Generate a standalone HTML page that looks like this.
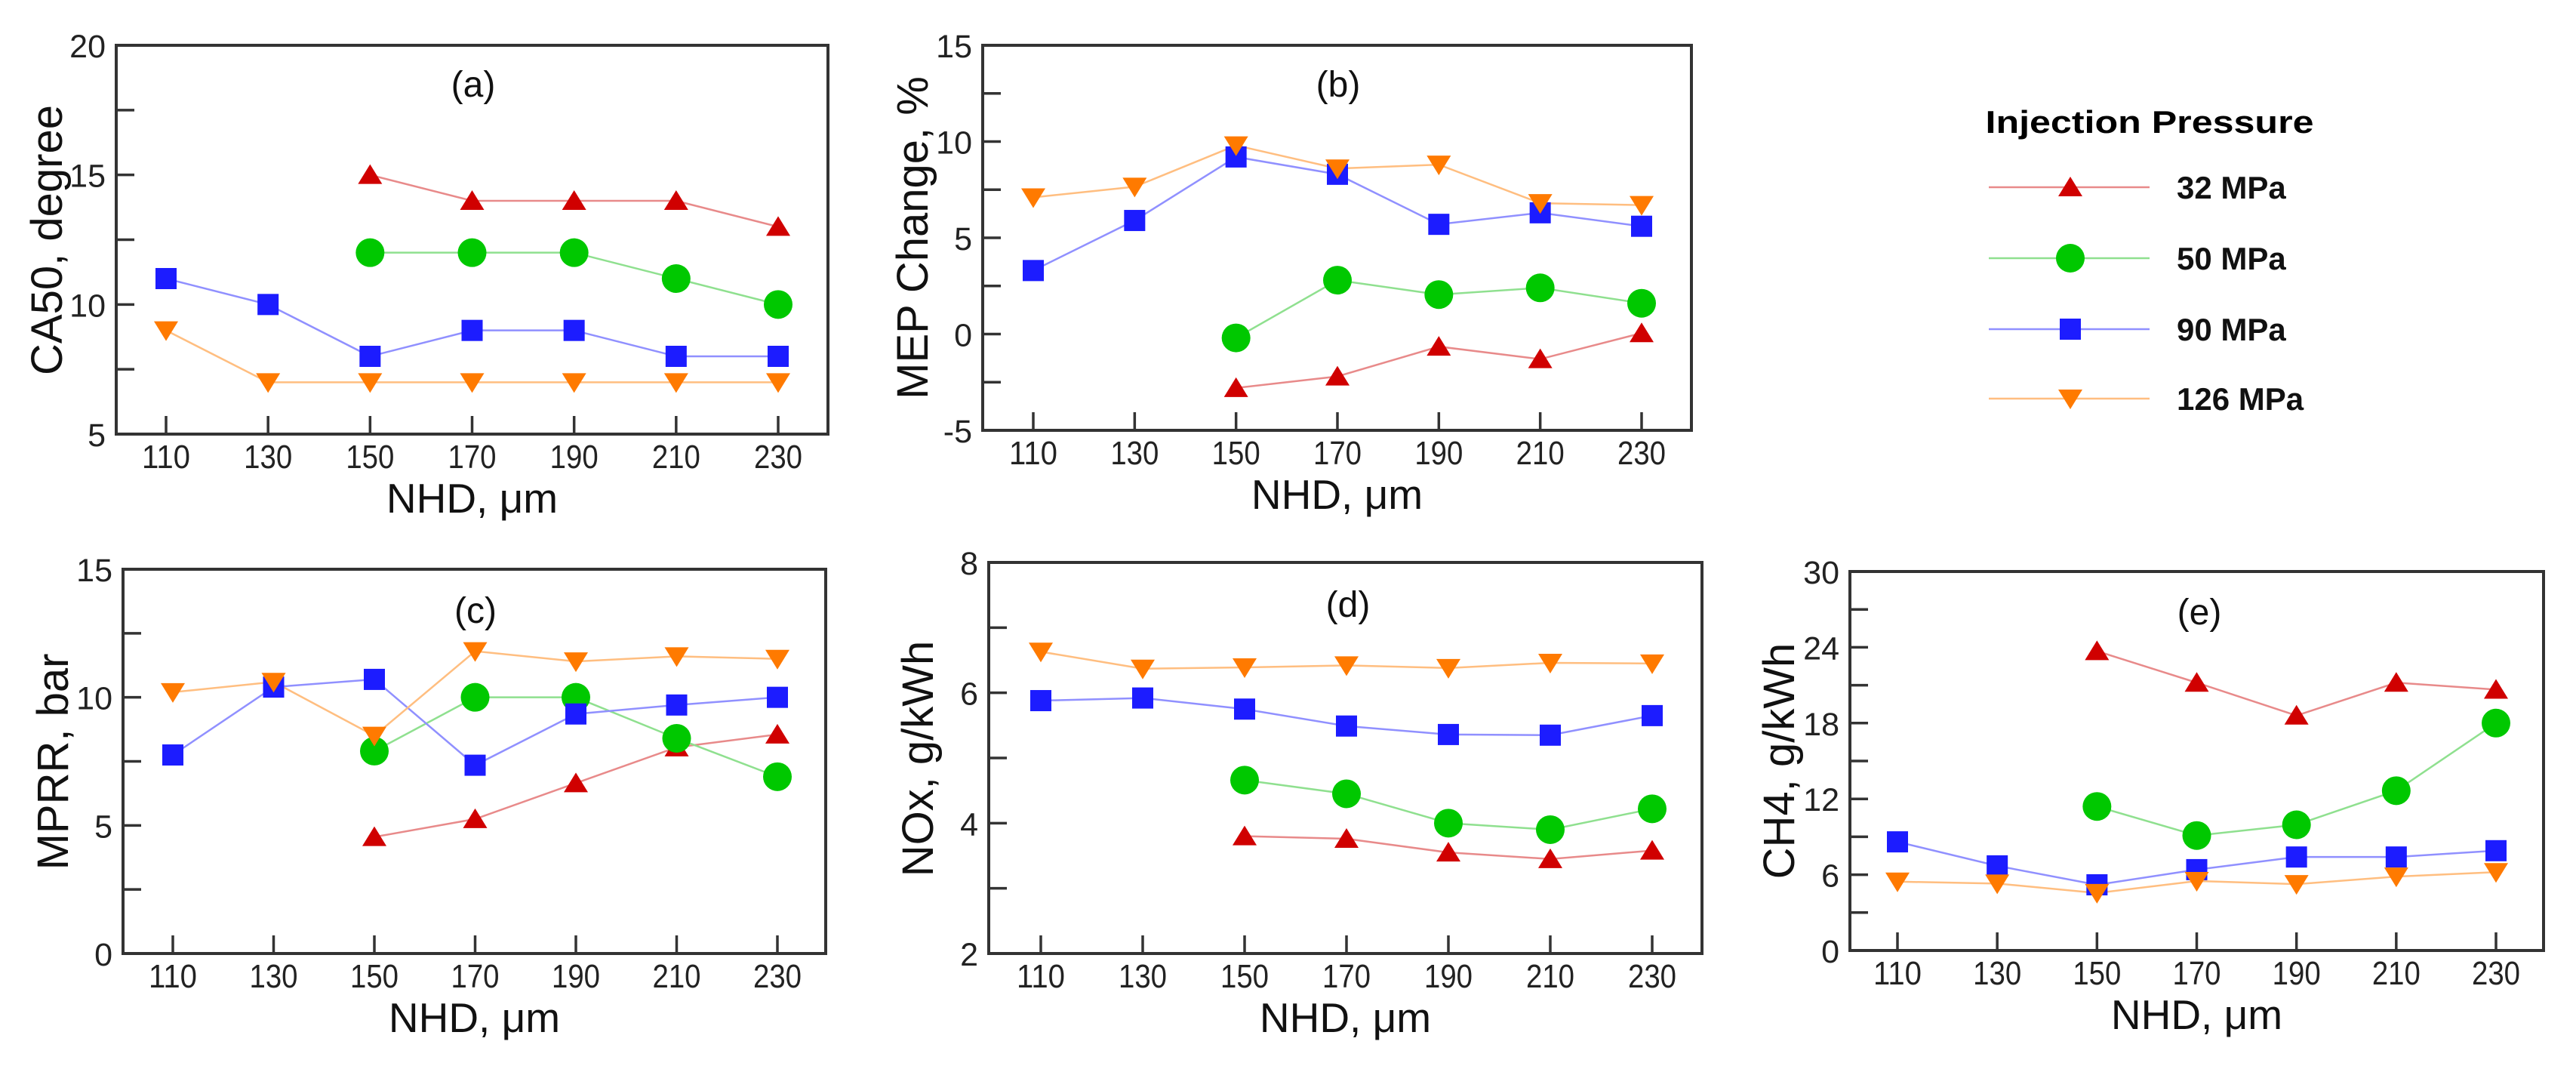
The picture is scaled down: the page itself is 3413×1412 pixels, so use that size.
<!DOCTYPE html>
<html><head><meta charset="utf-8"><style>
html,body{margin:0;padding:0;background:#fff;}
svg{display:block;font-family:"Liberation Sans",Arial,sans-serif;}
</style></head><body>
<svg id="fig" width="3413" height="1412" viewBox="0 0 3413 1412" xmlns="http://www.w3.org/2000/svg">
<g id="legend">
 <text x="2848" y="176" text-anchor="middle" font-size="42" font-weight="bold" textLength="435" lengthAdjust="spacingAndGlyphs">Injection Pressure</text>
</g>
</svg>
<script>
const xCats = [110,130,150,170,190,210,230];
const seriesNames = ['32 MPa','50 MPa','90 MPa','126 MPa'];
// panel (a) CA50
const a32 = [null,null,15,14,14,14,13];
const a50 = [null,null,12,12,12,11,10];
const a90 = [11,10,8,9,9,8,8];
const a126 = [9,7,7,7,7,7,7];
// panel (b) MEP change
const b32 = [null,null,-2.8,-2.2,-0.65,-1.3,0.05];
const b50 = [null,null,-0.2,2.8,2.05,2.4,1.6];
const b90 = [3.3,5.9,9.2,8.3,5.7,6.3,5.6];
const b126 = [7.1,7.65,9.8,8.6,8.8,6.8,6.7];
// panel (c) MPRR
const c32 = [null,null,4.55,5.25,6.65,8.05,8.55];
const c50 = [null,null,7.9,10.0,10.0,8.4,6.9];
const c90 = [7.75,10.4,10.7,7.35,9.35,9.7,10.0];
const c126 = [10.2,10.6,8.5,11.8,11.4,11.6,11.5];
// panel (d) NOx
const d32 = [null,null,3.8,3.76,3.55,3.45,3.58];
const d50 = [null,null,4.66,4.45,4.0,3.9,4.22];
const d90 = [5.88,5.92,5.75,5.49,5.36,5.35,5.65];
const d126 = [6.63,6.37,6.39,6.42,6.38,6.46,6.45];
// panel (e) CH4
const e32 = [null,null,23.7,21.2,18.6,21.2,20.65];
const e50 = [null,null,11.4,9.1,9.95,12.65,18.0];
const e90 = [8.6,6.7,5.2,6.4,7.4,7.4,7.9];
const e126 = [5.45,5.3,4.55,5.5,5.25,5.85,6.2];
// tick labels
const aTicks = [5,10,15,20];
const bTicks = [-5,0,5,10,15];
const cTicks = [0,5,10,15];
const dTicks = [2,4,6,8];
const eTicks = [0,6,12,18,24,30];

const NS='http://www.w3.org/2000/svg';
const svg=document.getElementById('fig');
const lineCol=['#e88a8a','#8fe08f','#9090ff','#ffbe80'];
const markCol=['#d00000','#00c800','#1c1cff','#ff7a00'];
const shapes=['tri','circ','sq','itri'];
function mk(tag,attrs,parent){const e=document.createElementNS(NS,tag);for(const k in attrs)e.setAttribute(k,attrs[k]);parent.appendChild(e);return e;}
function marker(shape,cx,cy,col,parent,name){
  let e;
  if(shape==='tri'){e=mk('polygon',{points:`${cx-16},${cy+12} ${cx+16},${cy+12} ${cx},${cy-14}`,fill:col},parent);}
  else if(shape==='itri'){e=mk('polygon',{points:`${cx-16},${cy-12} ${cx+16},${cy-12} ${cx},${cy+14}`,fill:col},parent);}
  else if(shape==='circ'){e=mk('circle',{cx:cx,cy:cy,r:19,fill:col},parent);}
  else {e=mk('rect',{x:cx-14,y:cy-14,width:28,height:28,fill:col},parent);}
  
  
  return e;
}
function panel(p){
  const g=mk('g',{},svg);
  
  
  const xs=v=>p.x110+(v-110)/120*(p.x230-p.x110);
  const ys=v=>p.b-(v-p.min)/(p.max-p.min)*(p.b-p.t);
  // series lines then markers
  p.series.forEach((arr,si)=>{
    const pts=[];arr.forEach((v,i)=>{if(v!==null)pts.push(xs(xCats[i])+','+ys(v));});
    const pl=mk('polyline',{points:pts.join(' '),fill:'none',stroke:lineCol[si],'stroke-width':2.5},g);
    
    
  });
  p.series.forEach((arr,si)=>{
    arr.forEach((v,i)=>{if(v!==null)marker(shapes[si],xs(xCats[i]),ys(v),markCol[si],g,'point-'+p.id+'-'+si+'-'+xCats[i]);});
  });
  // frame
  const fr=mk('rect',{x:p.l,y:p.t,width:p.r-p.l,height:p.b-p.t,fill:'none',stroke:'#333','stroke-width':4},g);
  
  
  // y ticks major + minor
  for(let k=0;k<p.ticks.length;k++){
    const v=p.ticks[k];const y=ys(v);
    mk('line',{x1:p.l,x2:p.l+24,y1:y,y2:y,stroke:'#333','stroke-width':3.5},g);
    const t=mk('text',{x:p.l-14,y:y+16,'text-anchor':'end','font-size':43,fill:'#222'},g);
    t.textContent=v;
    
    
    if(k<p.ticks.length-1){const m=(v+p.ticks[k+1])/2;const ym=ys(m);
      mk('line',{x1:p.l,x2:p.l+24,y1:ym,y2:ym,stroke:'#333','stroke-width':3.5},g);}
  }
  // x ticks
  xCats.forEach(c=>{const x=xs(c);
    mk('line',{x1:x,x2:x,y1:p.b,y2:p.b-24,stroke:'#333','stroke-width':3.5},g);
    const t=mk('text',{x:x,y:p.b+45,'text-anchor':'middle','font-size':44,fill:'#222',textLength:64,lengthAdjust:'spacingAndGlyphs'},g);
    t.textContent=c;
    
    
  });
  const xl=mk('text',{x:(p.l+p.r)/2,y:p.b+104,'text-anchor':'middle','font-size':55,fill:'#111'},g);
  xl.textContent='NHD, μm';
  
  
  const yl=mk('text',{x:0,y:0,'text-anchor':'middle','font-size':58,fill:'#111',transform:`translate(${p.yx+20},${p.yc}) rotate(-90)`},g);
  yl.textContent=p.ylabel;
  
  
  const pl=mk('text',{x:p.labx,y:p.laby+16,'text-anchor':'middle','font-size':48,fill:'#111'},g);
  pl.textContent='('+p.id+')';
  
  
}
panel({id:'a',l:154,r:1097,t:60,b:575,x110:220,x230:1031,min:5,max:20,ticks:aTicks,series:[a32,a50,a90,a126],ylabel:'CA50, degree',yx:62,yc:318,labx:627,laby:112});
panel({id:'b',l:1302,r:2241,t:60,b:570,x110:1369,x230:2175,min:-5,max:15,ticks:bTicks,series:[b32,b50,b90,b126],ylabel:'MEP Change, %',yx:1209,yc:315,labx:1773,laby:112});
panel({id:'c',l:163,r:1094,t:754,b:1263,x110:229,x230:1030,min:0,max:15,ticks:cTicks,series:[c32,c50,c90,c126],ylabel:'MPRR, bar',yx:70,yc:1009,labx:630,laby:809});
panel({id:'d',l:1310,r:2255,t:745,b:1263,x110:1379,x230:2189,min:2,max:8,ticks:dTicks,series:[d32,d50,d90,d126],ylabel:'NOx, g/kWh',yx:1216,yc:1005,labx:1786,laby:801});
panel({id:'e',l:2451,r:3370,t:757,b:1259,x110:2514,x230:3307,min:0,max:30,ticks:eTicks,series:[e32,e50,e90,e126],ylabel:'CH4, g/kWh',yx:2357,yc:1008,labx:2914,laby:811});
// legend entries
const lg=document.getElementById('legend');
const legY=[248,342,436,528];
seriesNames.forEach((n,i)=>{
  const g=mk('g',{},lg);
  
  
  mk('line',{x1:2635,x2:2848,y1:legY[i],y2:legY[i],stroke:lineCol[i],'stroke-width':2.5},g);
  marker(shapes[i],2743,legY[i],markCol[i],g,'legend-marker');
  const t=mk('text',{x:2884,y:legY[i]+15,'font-size':42,'font-weight':'bold',fill:'#111'},g);
  t.textContent=n;
  
  
});
</script>
</body></html>
